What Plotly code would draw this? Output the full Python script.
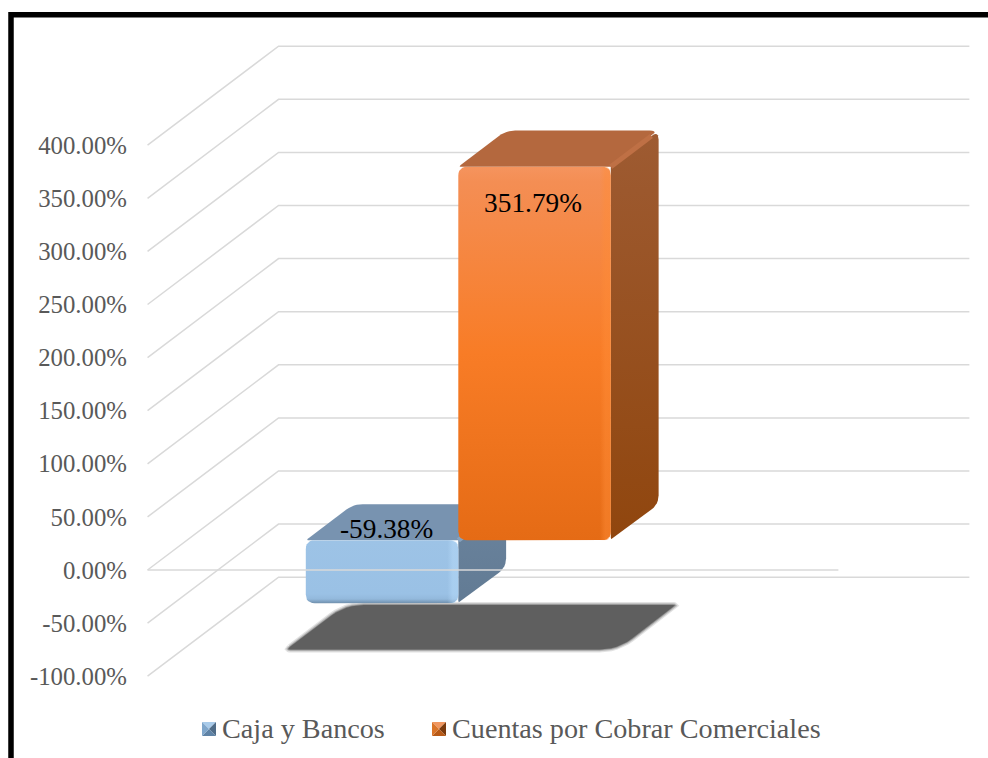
import plotly.graph_objects as go

# Chart data
categories = ["Caja y Bancos", "Cuentas por Cobrar Comerciales"]
values = [-59.38, 351.79]
axis_ticks = [400, 350, 300, 250, 200, 150, 100, 50, 0, -50, -100]
axis_labels = ["400.00%", "350.00%", "300.00%", "250.00%", "200.00%", "150.00%",
               "100.00%", "50.00%", "0.00%", "-50.00%", "-100.00%"]

# Oblique projection: depth 0 is the front of the box, depth 1 the back wall
W, H = 988, 758
PX_PER_SLOT = 152.5
PX_PER_PCT = 1.062
ORIGIN_X, ORIGIN_Y = 266.5, 570.0
SLANT_X = 131 / PX_PER_SLOT
SLANT_Y = 99 / PX_PER_PCT
FLOOR_LEFT, FLOOR_RIGHT = -0.78, 3.75
BAR_FRONT, BAR_BACK = 0.30, 0.665
CORNER = 9

SERIF = "Liberation Serif, Times New Roman, serif"
GRID = "#D9D9D9"

# Gradient stops run from the top of a face (0) to its bottom (1)
STYLES = [
    dict(
        front=[[0, "#9DC3E6"], [0.85, "#9AC1E5"], [0.93, "#93B9DC"], [1, "#6F8EAB"]],
        top="#7893B0",
        side=[[0, "#6A839D"], [1, "#627B94"]],
        bevel="rgba(190,225,255,0.4)",
        ridge="#86A2BF",
        glyph=("#A9CBEA", "#7FA6CB", "#4F6C88", "#5F83A6"),
    ),
    dict(
        front=[[0, "#F5945E"], [0.04, "#F48E54"], [0.5, "#F87C26"], [1, "#E56B15"]],
        top="#B4683E",
        side=[[0, "#9E5B32"], [1, "#90460E"]],
        bevel="rgba(255,140,55,0.45)",
        ridge="#BF7045",
        glyph=("#F0965F", "#D97428", "#7A3A0C", "#B85A17"),
    ),
]


def project(x, v, depth):
    return x + depth * SLANT_X, v + depth * SLANT_Y


def rounded(points, radii):
    """Close a polygon, replacing each corner by a small curve of the given pixel radius."""
    out_x, out_y = [], []
    n = len(points)
    for k, (x, y) in enumerate(points):
        r = radii[k]
        if r == 0:
            out_x.append(x)
            out_y.append(y)
            continue
        px_, py_ = points[k - 1]
        nx, ny = points[(k + 1) % n]
        d1 = (((px_ - x) * PX_PER_SLOT) ** 2 + ((py_ - y) * PX_PER_PCT) ** 2) ** 0.5
        d2 = (((nx - x) * PX_PER_SLOT) ** 2 + ((ny - y) * PX_PER_PCT) ** 2) ** 0.5
        a = min(r / d1, 0.5)
        b = min(r / d2, 0.5)
        sx, sy = x + (px_ - x) * a, y + (py_ - y) * a
        ex, ey = x + (nx - x) * b, y + (ny - y) * b
        for s in range(7):
            t = s / 6
            out_x.append((1 - t) ** 2 * sx + 2 * t * (1 - t) * x + t ** 2 * ex)
            out_y.append((1 - t) ** 2 * sy + 2 * t * (1 - t) * y + t ** 2 * ey)
    out_x.append(out_x[0])
    out_y.append(out_y[0])
    return out_x, out_y


def downward(stops):
    """fillgradient counts upward along the value axis, so flip top-to-bottom stops."""
    return [[1 - pos, col] for pos, col in reversed(stops)]


def face(fig, points, radii, name, color=None, gradient=None, direction="vertical", line=None):
    xs, ys = rounded(points, radii)
    kw = dict(
        x=xs, y=ys, mode="lines", fill="toself", name=name,
        hoverinfo="skip", showlegend=False,
    )
    kw["line"] = line or dict(width=0, color="rgba(0,0,0,0)")
    if gradient:
        kw["fillgradient"] = dict(type=direction, colorscale=gradient)
    else:
        kw["fillcolor"] = color
    fig.add_trace(go.Scatter(**kw))


fig = go.Figure()

# Walls: each gridline runs from the value axis back and then along the rear wall
for tick in axis_ticks:
    x0, y0 = project(FLOOR_LEFT, tick, 0)
    x1, y1 = project(FLOOR_LEFT, tick, 1)
    x2, y2 = project(FLOOR_RIGHT, tick, 1)
    fig.add_trace(go.Scatter(
        x=[x0, x1, x2], y=[y0, y1, y2], mode="lines", showlegend=False,
        hoverinfo="skip", line=dict(color=GRID, width=1.5),
    ))

# Soft shadow on the floor
floor = min(axis_ticks)
shadow_left, shadow_right = -0.10, len(values) + 0.07
shadow = [
    project(shadow_left, floor, 0.27), project(shadow_right, floor, 0.27),
    project(shadow_right, floor, 0.72), project(shadow_left, floor, 0.72),
]
shadow_r = [4, 18, 4, 18]
for width, alpha in [(6, 0.18), (3.5, 0.3), (1.5, 0.5)]:
    face(fig, shadow, shadow_r, "shadow", color="rgba(95,95,95,0)",
         line=dict(width=width, color=f"rgba(95,95,95,{alpha})"))
face(fig, shadow, shadow_r, "shadow", color="#5F5F5F")

# Bars, left to right so that the taller one covers its neighbour
for i, (name, value, st) in enumerate(zip(categories, values, STYLES)):
    hi, lo = max(value, 0), min(value, 0)

    top = [project(i, hi, BAR_FRONT), project(i + 1, hi, BAR_FRONT),
           project(i + 1, hi, BAR_BACK), project(i, hi, BAR_BACK)]
    face(fig, top, [3, 0, CORNER, CORNER], name, color=st["top"])

    side = [project(i + 1, hi, BAR_FRONT), project(i + 1, hi, BAR_BACK),
            project(i + 1, lo, BAR_BACK), project(i + 1, lo, BAR_FRONT)]
    face(fig, side, [0, CORNER, CORNER, 3], name, gradient=downward(st["side"]))

    # Ridge where the top meets the side
    rx0, ry0 = project(i + 1, hi, BAR_FRONT)
    rx1, ry1 = project(i + 1, hi, BAR_BACK - 0.055)
    fig.add_trace(go.Scatter(
        x=[rx0, rx1], y=[ry0, ry1], mode="lines", showlegend=False,
        hoverinfo="skip", line=dict(color=st["ridge"], width=5),
    ))

    front = [project(i, lo, BAR_FRONT), project(i + 1, lo, BAR_FRONT),
             project(i + 1, hi, BAR_FRONT), project(i, hi, BAR_FRONT)]
    face(fig, front, [CORNER] * 4, name, gradient=downward(st["front"]))

    # Light bevel down the right edge of the front face
    strip = 11 / PX_PER_SLOT
    bevel = [project(i + 1 - strip, lo, BAR_FRONT), project(i + 1, lo, BAR_FRONT),
             project(i + 1, hi, BAR_FRONT), project(i + 1 - strip, hi, BAR_FRONT)]
    face(fig, bevel, [0, CORNER, CORNER, 0], name, direction="horizontal",
         gradient=[[0, st["bevel"].rsplit(",", 1)[0] + ",0)"], [0.5, st["bevel"]], [1, st["bevel"]]])

# The zero line sits in front of the bars
zx0, zy0 = project(FLOOR_LEFT, 0, 0)
zx1, zy1 = project(FLOOR_RIGHT, 0, 0)
fig.add_trace(go.Scatter(
    x=[zx0, zx1], y=[zy0, zy1], mode="lines", showlegend=False,
    hoverinfo="skip", line=dict(color=GRID, width=1.5),
))

# Value labels
label_shift = [(0.03, 9), (-0.01, -36)]
for i, (value, (dx, dv)) in enumerate(zip(values, label_shift)):
    lx, ly = project(i + 0.5 + dx, max(value, 0) + dv, BAR_FRONT)
    fig.add_trace(go.Scatter(
        x=[lx], y=[ly], mode="text", text=[f"{value:.2f}%"], textposition="middle center",
        textfont=dict(family=SERIF, size=27.3, color="#000000"),
        showlegend=False, hoverinfo="skip",
    ))


def px(x):
    return x / W


def py(y):
    return 1 - y / H


# Legend entries: a small pyramid swatch followed by the series name
shapes = []
annotations = []
legend_x = [202, 432]
for x0, name, st in zip(legend_x, categories, STYLES):
    y0, size = 722, 14
    c = (px(x0 + size / 2), py(y0 + size / 2))
    corners = [(px(x0), py(y0)), (px(x0 + size), py(y0)),
               (px(x0 + size), py(y0 + size)), (px(x0), py(y0 + size))]
    order = [(0, 1, st["glyph"][0]), (1, 2, st["glyph"][2]),
             (2, 3, st["glyph"][3]), (3, 0, st["glyph"][1])]
    for a, b, col in order:
        path = (f"M {corners[a][0]:.5f} {corners[a][1]:.5f} "
                f"L {corners[b][0]:.5f} {corners[b][1]:.5f} L {c[0]:.5f} {c[1]:.5f} Z")
        shapes.append(dict(type="path", xref="paper", yref="paper", path=path,
                           fillcolor=col, line=dict(width=0)))
    annotations.append(dict(
        x=px(x0 + 18), y=py(728), xref="paper", yref="paper", text=name, showarrow=False,
        xanchor="left", yanchor="middle",
        font=dict(family=SERIF, size=28.2, color="#595959"),
    ))

# Outer frame, open at the right and bottom edges of the page
frame = f"M {px(11):.5f} {py(H + 5):.5f} L {px(11):.5f} {py(14.7):.5f} L {px(W + 5):.5f} {py(14.7):.5f}"
shapes.append(dict(type="path", xref="paper", yref="paper", path=frame,
                   line=dict(color="#000000", width=5.5)))

fig.update_layout(
    width=W, height=H, margin=dict(l=0, r=0, t=0, b=0),
    paper_bgcolor="white", plot_bgcolor="white", showlegend=False,
    shapes=shapes, annotations=annotations,
    xaxis=dict(
        domain=[0, 1], visible=False, fixedrange=True,
        range=[(0 - ORIGIN_X) / PX_PER_SLOT, (W - ORIGIN_X) / PX_PER_SLOT],
    ),
    yaxis=dict(
        anchor="free", position=147 / W, fixedrange=True,
        range=[(ORIGIN_Y - H) / PX_PER_PCT, ORIGIN_Y / PX_PER_PCT],
        tickmode="array", tickvals=axis_ticks, ticktext=axis_labels,
        showgrid=False, zeroline=False, showline=False,
        ticks="outside", ticklen=15, tickcolor="rgba(0,0,0,0)",
        tickfont=dict(family=SERIF, size=24.8, color="#595959"),
    ),
)

fig.write_html("out.html", config={"displayModeBar": False})
